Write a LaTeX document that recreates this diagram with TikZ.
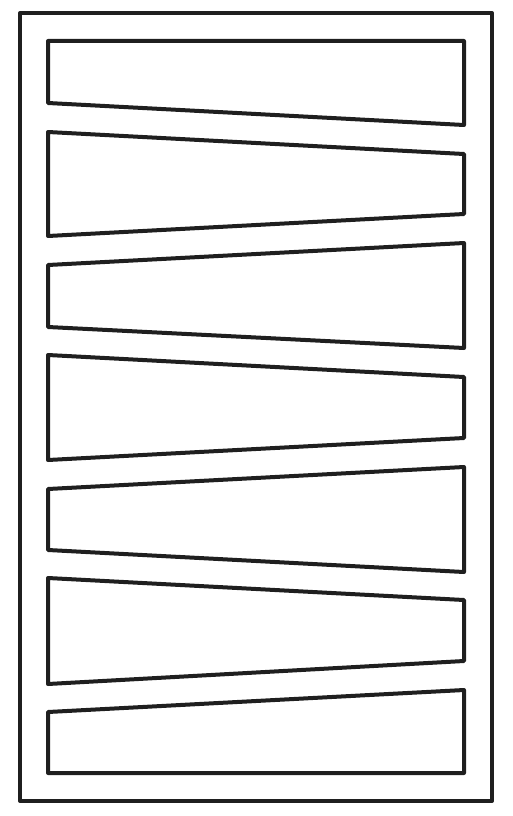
\documentclass[tikz,border=0pt]{standalone}
\begin{document}
\begin{tikzpicture}[x=1pt,y=-1pt,
  frame/.style={draw=black!88,line width=4pt,line join=round},
  slat/.style={draw=black!88,line width=4pt,line join=round}]
\useasboundingbox (0,0) rectangle (512,816);
\draw[frame] (20,13) rectangle (492,801);
\draw[slat] (48,41) -- (464,41) -- (464,125) -- (48,103) -- cycle;
\draw[slat] (48,132) -- (464,154) -- (464,214) -- (48,236) -- cycle;
\draw[slat] (48,265) -- (464,243) -- (464,348) -- (48,327) -- cycle;
\draw[slat] (48,355) -- (464,377) -- (464,438) -- (48,460) -- cycle;
\draw[slat] (48,489) -- (464,467) -- (464,572) -- (48,550) -- cycle;
\draw[slat] (48,578) -- (464,600) -- (464,661) -- (48,684) -- cycle;
\draw[slat] (48,712) -- (464,690) -- (464,773) -- (48,773) -- cycle;
\end{tikzpicture}
\end{document}
